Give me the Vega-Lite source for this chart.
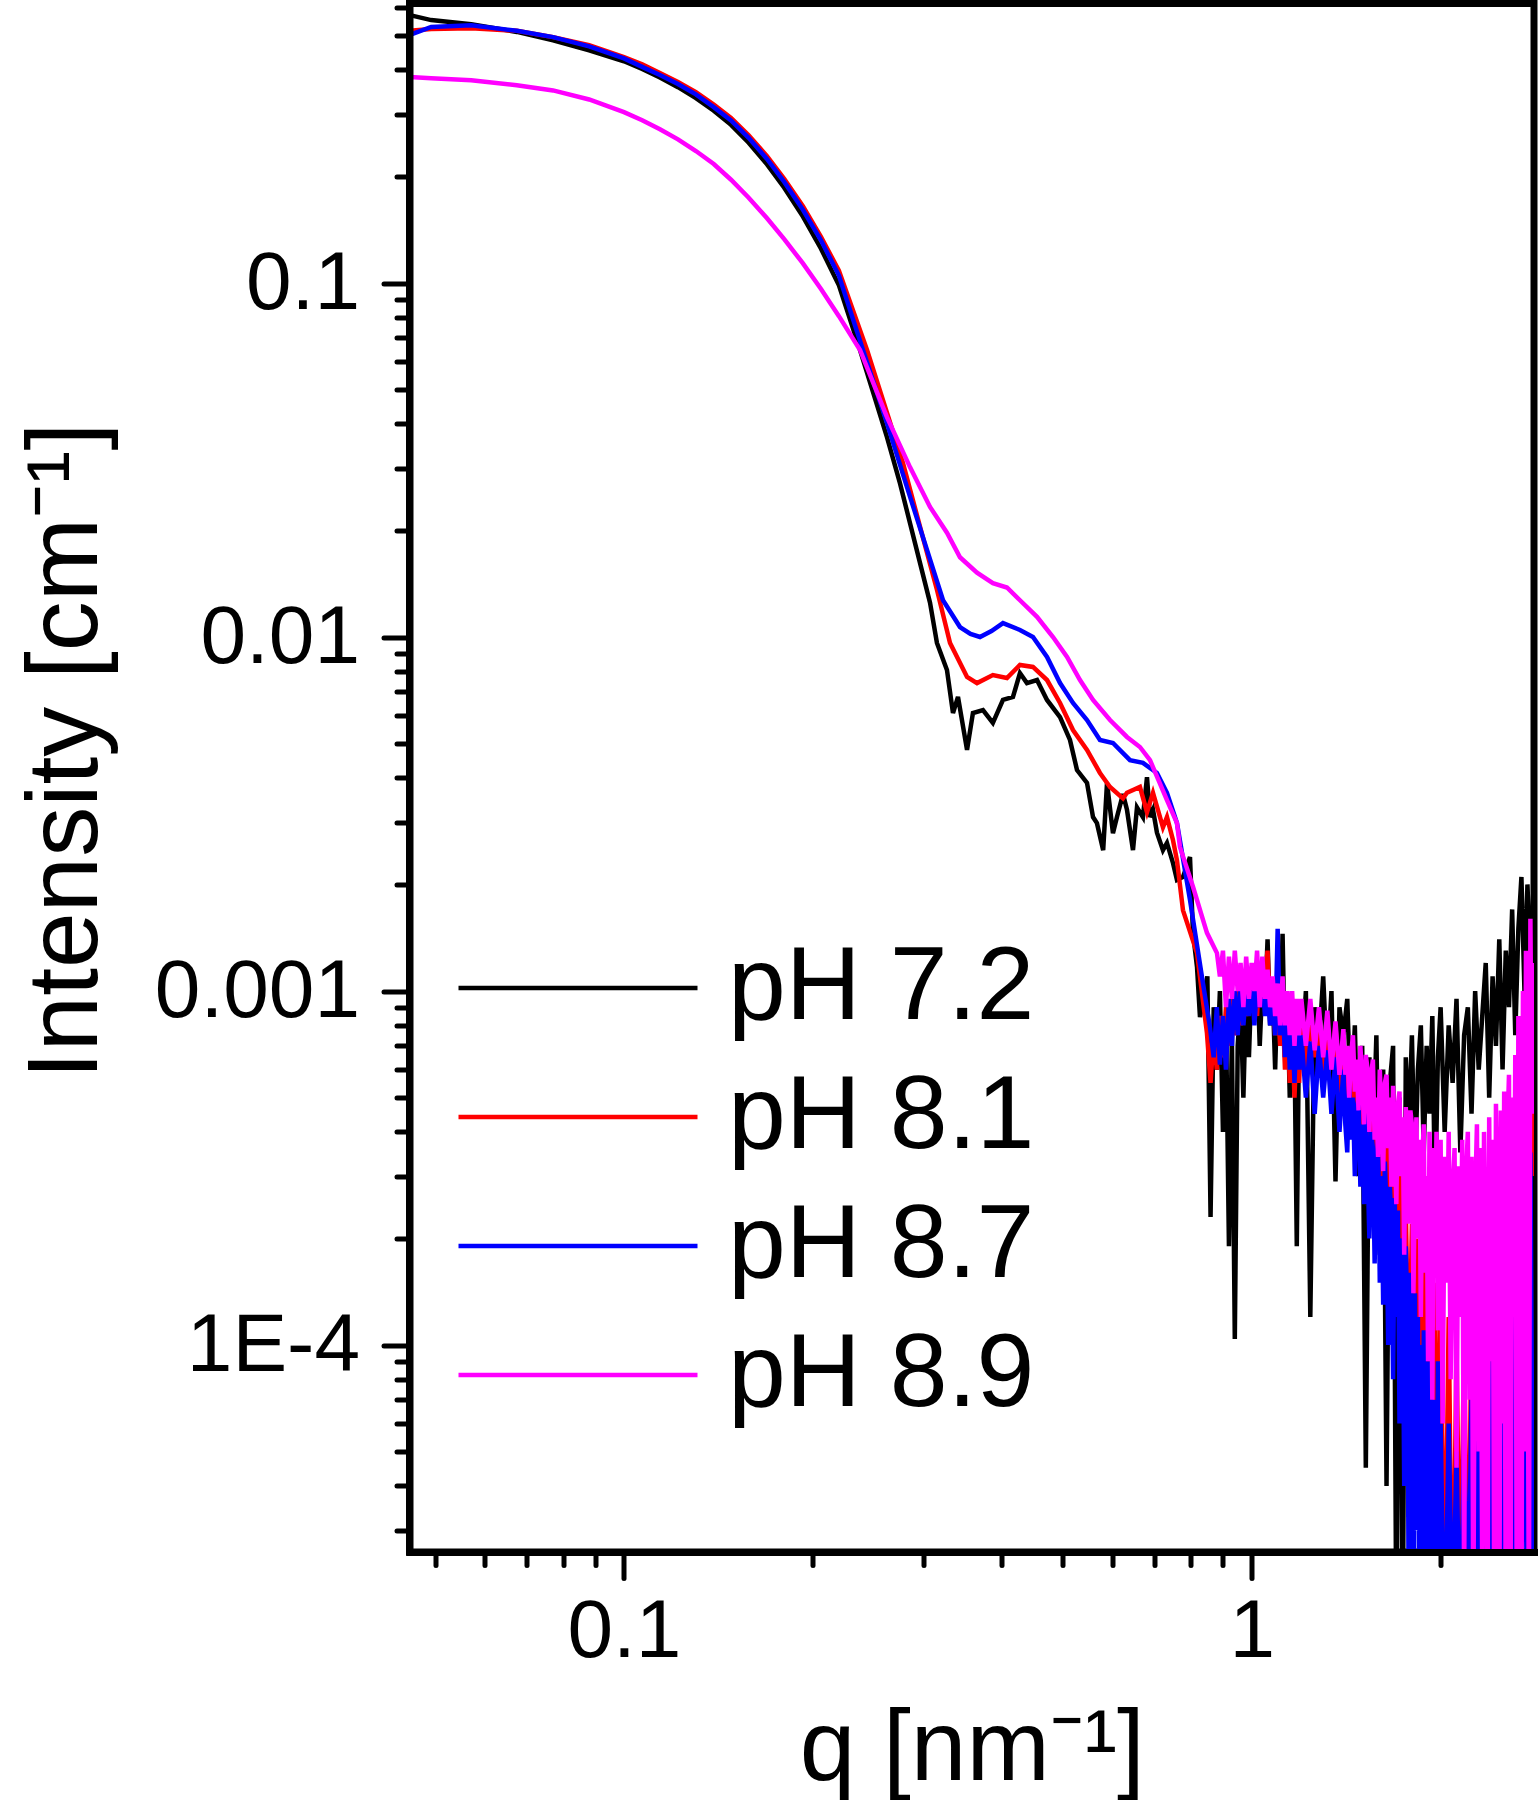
{
"$schema": "https://vega.github.io/schema/vega-lite/v6.json",
"width": 1124.5,
"height": 1548.5,
"autosize": {"type": "none"},
"padding": {"left": 409.5, "top": 3.5, "right": 6, "bottom": 248},
"background": "white",
"config": {"view": {"stroke": "black", "strokeWidth": 7}, "font": "Liberation Sans"},
"data": {"values": [
{"p":"pH 7.2","q":0.0456,"I":0.571},{"p":"pH 7.2","q":0.0493,"I":0.553},{"p":"pH 7.2","q":0.0571,"I":0.538},{"p":"pH 7.2","q":0.0675,"I":0.512},{"p":"pH 7.2","q":0.0771,"I":0.485},{"p":"pH 7.2","q":0.088,"I":0.454},{"p":"pH 7.2","q":0.1,"I":0.4231},{"p":"pH 7.2","q":0.1069,"I":0.4025},{"p":"pH 7.2","q":0.1141,"I":0.3806},{"p":"pH 7.2","q":0.1219,"I":0.3575},{"p":"pH 7.2","q":0.1302,"I":0.333},{"p":"pH 7.2","q":0.139,"I":0.3068},{"p":"pH 7.2","q":0.1481,"I":0.2798},{"p":"pH 7.2","q":0.158,"I":0.249},{"p":"pH 7.2","q":0.169,"I":0.2163},{"p":"pH 7.2","q":0.18,"I":0.1858},{"p":"pH 7.2","q":0.1928,"I":0.154},{"p":"pH 7.2","q":0.206,"I":0.125},{"p":"pH 7.2","q":0.22,"I":0.0985},{"p":"pH 7.2","q":0.2377,"I":0.0647},{"p":"pH 7.2","q":0.2624,"I":0.0367},{"p":"pH 7.2","q":0.2752,"I":0.0272},{"p":"pH 7.2","q":0.2855,"I":0.021},{"p":"pH 7.2","q":0.2962,"I":0.0162},{"p":"pH 7.2","q":0.3073,"I":0.0125},{"p":"pH 7.2","q":0.3152,"I":0.00962},{"p":"pH 7.2","q":0.327,"I":0.00807},{"p":"pH 7.2","q":0.3343,"I":0.0061},{"p":"pH 7.2","q":0.3405,"I":0.00677},{"p":"pH 7.2","q":0.352,"I":0.0048},{"p":"pH 7.2","q":0.3597,"I":0.0061},{"p":"pH 7.2","q":0.3732,"I":0.00622},{"p":"pH 7.2","q":0.387,"I":0.00572},{"p":"pH 7.2","q":0.4016,"I":0.00664},{"p":"pH 7.2","q":0.4166,"I":0.00677},{"p":"pH 7.2","q":0.4274,"I":0.00791},{"p":"pH 7.2","q":0.4385,"I":0.00741},{"p":"pH 7.2","q":0.455,"I":0.00756},{"p":"pH 7.2","q":0.472,"I":0.00664},{"p":"pH 7.2","q":0.4951,"I":0.00594},{"p":"pH 7.2","q":0.5135,"I":0.00512},{"p":"pH 7.2","q":0.5269,"I":0.00421},{"p":"pH 7.2","q":0.5466,"I":0.00387},{"p":"pH 7.2","q":0.5588,"I":0.0031},{"p":"pH 7.2","q":0.5669,"I":0.00298},{"p":"pH 7.2","q":0.58,"I":0.0025},{"p":"pH 7.2","q":0.5882,"I":0.00387},{"p":"pH 7.2","q":0.6012,"I":0.00279},{"p":"pH 7.2","q":0.6101,"I":0.0031},{"p":"pH 7.2","q":0.6237,"I":0.0036},{"p":"pH 7.2","q":0.6329,"I":0.00325},{"p":"pH 7.2","q":0.647,"I":0.0025},{"p":"pH 7.2","q":0.6566,"I":0.0033},{"p":"pH 7.2","q":0.6711,"I":0.0031},{"p":"pH 7.2","q":0.6811,"I":0.00402},{"p":"pH 7.2","q":0.6887,"I":0.0031},{"p":"pH 7.2","q":0.6963,"I":0.00325},{"p":"pH 7.2","q":0.7065,"I":0.0028},{"p":"pH 7.2","q":0.7222,"I":0.0025},{"p":"pH 7.2","q":0.7329,"I":0.00262},{"p":"pH 7.2","q":0.7492,"I":0.0023},{"p":"pH 7.2","q":0.7603,"I":0.00206},{"p":"pH 7.2","q":0.7773,"I":0.0021},{"p":"pH 7.2","q":0.7975,"I":0.00239},{"p":"pH 7.2","q":0.8063,"I":0.00146},{"p":"pH 7.2","q":0.8183,"I":0.00117},{"p":"pH 7.2","q":0.8273,"I":0.000844},
{"p":"pH 7.2","q":0.85,"I":0.0011},{"p":"pH 7.2","q":0.86,"I":0.00023},{"p":"pH 7.2","q":0.87,"I":0.0009},{"p":"pH 7.2","q":0.88,"I":0.0006},{"p":"pH 7.2","q":0.89,"I":0.001},{"p":"pH 7.2","q":0.9,"I":0.0004},{"p":"pH 7.2","q":0.91,"I":0.00085},{"p":"pH 7.2","q":0.92,"I":0.00019},{"p":"pH 7.2","q":0.93,"I":0.00075},{"p":"pH 7.2","q":0.94,"I":0.000104},{"p":"pH 7.2","q":0.95,"I":0.0007},{"p":"pH 7.2","q":0.96,"I":0.00095},{"p":"pH 7.2","q":0.97,"I":0.0005},{"p":"pH 7.2","q":0.98,"I":0.001},{"p":"pH 7.2","q":0.99,"I":0.00065},{"p":"pH 7.2","q":1.0,"I":0.0011},{"p":"pH 7.2","q":1.01,"I":0.00085},{"p":"pH 7.2","q":1.02,"I":0.0012},{"p":"pH 7.2","q":1.03,"I":0.0007},{"p":"pH 7.2","q":1.04,"I":0.00105},{"p":"pH 7.2","q":1.05,"I":0.0009},{"p":"pH 7.2","q":1.06,"I":0.0014},{"p":"pH 7.2","q":1.07,"I":0.0008},{"p":"pH 7.2","q":1.08,"I":0.001},{"p":"pH 7.2","q":1.09,"I":0.0006},{"p":"pH 7.2","q":1.1,"I":0.00105},{"p":"pH 7.2","q":1.11,"I":0.00075},{"p":"pH 7.2","q":1.12,"I":0.00145},{"p":"pH 7.2","q":1.13,"I":0.00065},{"p":"pH 7.2","q":1.14,"I":0.00095},{"p":"pH 7.2","q":1.15,"I":0.0005},{"p":"pH 7.2","q":1.16,"I":0.00085},{"p":"pH 7.2","q":1.17,"I":0.0007},{"p":"pH 7.2","q":1.18,"I":0.00019},{"p":"pH 7.2","q":1.19,"I":0.0008},{"p":"pH 7.2","q":1.2,"I":0.0006},{"p":"pH 7.2","q":1.22,"I":0.001},{"p":"pH 7.2","q":1.24,"I":0.00012},{"p":"pH 7.2","q":1.26,"I":0.0009},{"p":"pH 7.2","q":1.28,"I":0.0007},{"p":"pH 7.2","q":1.3,"I":0.0011},{"p":"pH 7.2","q":1.32,"I":0.0006},{"p":"pH 7.2","q":1.34,"I":0.001},{"p":"pH 7.2","q":1.36,"I":0.00029},{"p":"pH 7.2","q":1.38,"I":0.0009},{"p":"pH 7.2","q":1.4,"I":0.00075},{"p":"pH 7.2","q":1.42,"I":0.00095},{"p":"pH 7.2","q":1.44,"I":0.00045},{"p":"pH 7.2","q":1.46,"I":0.0008},{"p":"pH 7.2","q":1.48,"I":0.0003},{"p":"pH 7.2","q":1.5,"I":0.0007},{"p":"pH 7.2","q":1.52,"I":0.000045},{"p":"pH 7.2","q":1.54,"I":0.00065},{"p":"pH 7.2","q":1.56,"I":0.00035},{"p":"pH 7.2","q":1.58,"I":0.00075},{"p":"pH 7.2","q":1.6,"I":0.00018},{"p":"pH 7.2","q":1.62,"I":0.0006},{"p":"pH 7.2","q":1.64,"I":0.00004},{"p":"pH 7.2","q":1.66,"I":0.00055},{"p":"pH 7.2","q":1.68,"I":0.0007},{"p":"pH 7.2","q":1.7,"I":0.000015},{"p":"pH 7.2","q":1.72,"I":0.0005},{"p":"pH 7.2","q":1.74,"I":0.000012},{"p":"pH 7.2","q":1.76,"I":0.00065},{"p":"pH 7.2","q":1.78,"I":0.0004},{"p":"pH 7.2","q":1.8,"I":0.00075},{"p":"pH 7.2","q":1.82,"I":0.0003},{"p":"pH 7.2","q":1.84,"I":0.0006},{"p":"pH 7.2","q":1.86,"I":0.0008},{"p":"pH 7.2","q":1.88,"I":0.00035},{"p":"pH 7.2","q":1.9,"I":0.0007},{"p":"pH 7.2","q":1.92,"I":0.00045},{"p":"pH 7.2","q":1.94,"I":0.00085},{"p":"pH 7.2","q":1.96,"I":0.00025},{"p":"pH 7.2","q":1.98,"I":0.00065},{"p":"pH 7.2","q":2.0,"I":0.0009},{"p":"pH 7.2","q":2.03,"I":0.0004},{"p":"pH 7.2","q":2.06,"I":0.0008},{"p":"pH 7.2","q":2.09,"I":0.00055},{"p":"pH 7.2","q":2.12,"I":0.00095},{"p":"pH 7.2","q":2.15,"I":0.00035},{"p":"pH 7.2","q":2.18,"I":0.00075},{"p":"pH 7.2","q":2.21,"I":0.0009},{"p":"pH 7.2","q":2.24,"I":0.00045},{"p":"pH 7.2","q":2.27,"I":0.001},{"p":"pH 7.2","q":2.3,"I":0.0006},{"p":"pH 7.2","q":2.33,"I":0.00085},{"p":"pH 7.2","q":2.36,"I":0.0012},{"p":"pH 7.2","q":2.39,"I":0.0005},{"p":"pH 7.2","q":2.42,"I":0.0011},{"p":"pH 7.2","q":2.45,"I":0.0007},{"p":"pH 7.2","q":2.48,"I":0.0014},{"p":"pH 7.2","q":2.51,"I":0.0006},{"p":"pH 7.2","q":2.54,"I":0.0013},{"p":"pH 7.2","q":2.57,"I":0.0009},{"p":"pH 7.2","q":2.6,"I":0.0017},{"p":"pH 7.2","q":2.63,"I":0.00075},{"p":"pH 7.2","q":2.66,"I":0.0015},{"p":"pH 7.2","q":2.69,"I":0.0021},{"p":"pH 7.2","q":2.72,"I":0.001},{"p":"pH 7.2","q":2.75,"I":0.002},{"p":"pH 7.2","q":2.78,"I":0.0012},{"p":"pH 7.2","q":2.81,"I":0.0019},
{"p":"pH 8.1","q":0.0456,"I":0.516},{"p":"pH 8.1","q":0.0493,"I":0.522},{"p":"pH 8.1","q":0.0571,"I":0.524},{"p":"pH 8.1","q":0.0675,"I":0.516},{"p":"pH 8.1","q":0.0771,"I":0.495},{"p":"pH 8.1","q":0.088,"I":0.47},{"p":"pH 8.1","q":0.1,"I":0.435},{"p":"pH 8.1","q":0.1069,"I":0.4146},{"p":"pH 8.1","q":0.1141,"I":0.392},{"p":"pH 8.1","q":0.1219,"I":0.37},{"p":"pH 8.1","q":0.1302,"I":0.3463},{"p":"pH 8.1","q":0.139,"I":0.319},{"p":"pH 8.1","q":0.1481,"I":0.2924},{"p":"pH 8.1","q":0.158,"I":0.2615},{"p":"pH 8.1","q":0.169,"I":0.2282},{"p":"pH 8.1","q":0.18,"I":0.197},{"p":"pH 8.1","q":0.1928,"I":0.1648},{"p":"pH 8.1","q":0.206,"I":0.135},{"p":"pH 8.1","q":0.22,"I":0.1084},{"p":"pH 8.1","q":0.2439,"I":0.0647},{"p":"pH 8.1","q":0.2783,"I":0.031},{"p":"pH 8.1","q":0.2962,"I":0.0205},{"p":"pH 8.1","q":0.3152,"I":0.0136},{"p":"pH 8.1","q":0.3307,"I":0.00962},{"p":"pH 8.1","q":0.352,"I":0.00771},{"p":"pH 8.1","q":0.3651,"I":0.00741},{"p":"pH 8.1","q":0.387,"I":0.00781},{"p":"pH 8.1","q":0.4075,"I":0.00766},{"p":"pH 8.1","q":0.4274,"I":0.00834},{"p":"pH 8.1","q":0.4483,"I":0.00823},{"p":"pH 8.1","q":0.472,"I":0.00756},{"p":"pH 8.1","q":0.4951,"I":0.00651},{"p":"pH 8.1","q":0.5192,"I":0.00546},{"p":"pH 8.1","q":0.5466,"I":0.0048},{"p":"pH 8.1","q":0.5732,"I":0.00413},{"p":"pH 8.1","q":0.5947,"I":0.00377},{"p":"pH 8.1","q":0.6237,"I":0.0035},{"p":"pH 8.1","q":0.6329,"I":0.00363},{"p":"pH 8.1","q":0.6637,"I":0.00377},{"p":"pH 8.1","q":0.6811,"I":0.0032},{"p":"pH 8.1","q":0.6963,"I":0.00363},{"p":"pH 8.1","q":0.7222,"I":0.0029},{"p":"pH 8.1","q":0.7329,"I":0.0031},{"p":"pH 8.1","q":0.7492,"I":0.00267},{"p":"pH 8.1","q":0.7603,"I":0.00234},{"p":"pH 8.1","q":0.7773,"I":0.00169},{"p":"pH 8.1","q":0.8183,"I":0.00128},{"p":"pH 8.1","q":0.8487,"I":0.000761},
{"p":"pH 8.1","q":0.86,"I":0.00055},{"p":"pH 8.1","q":0.87,"I":0.00075},{"p":"pH 8.1","q":0.88,"I":0.0006},{"p":"pH 8.1","q":0.89,"I":0.00085},{"p":"pH 8.1","q":0.9,"I":0.00065},{"p":"pH 8.1","q":0.91,"I":0.0009},{"p":"pH 8.1","q":0.92,"I":0.0007},{"p":"pH 8.1","q":0.93,"I":0.00095},{"p":"pH 8.1","q":0.94,"I":0.00075},{"p":"pH 8.1","q":0.95,"I":0.001},{"p":"pH 8.1","q":0.96,"I":0.0008},{"p":"pH 8.1","q":0.97,"I":0.00105},{"p":"pH 8.1","q":0.98,"I":0.00085},{"p":"pH 8.1","q":0.99,"I":0.0011},{"p":"pH 8.1","q":1.0,"I":0.0009},{"p":"pH 8.1","q":1.01,"I":0.00105},{"p":"pH 8.1","q":1.02,"I":0.00085},{"p":"pH 8.1","q":1.03,"I":0.0012},{"p":"pH 8.1","q":1.04,"I":0.00095},{"p":"pH 8.1","q":1.05,"I":0.0011},{"p":"pH 8.1","q":1.06,"I":0.0013},{"p":"pH 8.1","q":1.07,"I":0.00085},{"p":"pH 8.1","q":1.08,"I":0.001},{"p":"pH 8.1","q":1.09,"I":0.00075},{"p":"pH 8.1","q":1.1,"I":0.00095},{"p":"pH 8.1","q":1.11,"I":0.0007},{"p":"pH 8.1","q":1.12,"I":0.0009},{"p":"pH 8.1","q":1.13,"I":0.0006},{"p":"pH 8.1","q":1.14,"I":0.00085},{"p":"pH 8.1","q":1.15,"I":0.00055},{"p":"pH 8.1","q":1.16,"I":0.0008},{"p":"pH 8.1","q":1.17,"I":0.0005},{"p":"pH 8.1","q":1.18,"I":0.00075},{"p":"pH 8.1","q":1.19,"I":0.00055},{"p":"pH 8.1","q":1.2,"I":0.0008},{"p":"pH 8.1","q":1.22,"I":0.0006},{"p":"pH 8.1","q":1.24,"I":0.00085},{"p":"pH 8.1","q":1.26,"I":0.00065},{"p":"pH 8.1","q":1.28,"I":0.0008},{"p":"pH 8.1","q":1.3,"I":0.00055},{"p":"pH 8.1","q":1.32,"I":0.00075},{"p":"pH 8.1","q":1.34,"I":0.0006},{"p":"pH 8.1","q":1.36,"I":0.0008},{"p":"pH 8.1","q":1.38,"I":0.0005},{"p":"pH 8.1","q":1.4,"I":0.0007},{"p":"pH 8.1","q":1.42,"I":0.00045},{"p":"pH 8.1","q":1.44,"I":0.00065},{"p":"pH 8.1","q":1.46,"I":0.0004},{"p":"pH 8.1","q":1.48,"I":0.0006},{"p":"pH 8.1","q":1.5,"I":0.00035},{"p":"pH 8.1","q":1.52,"I":0.00055},{"p":"pH 8.1","q":1.54,"I":0.0003},{"p":"pH 8.1","q":1.56,"I":0.0005},{"p":"pH 8.1","q":1.58,"I":0.00025},{"p":"pH 8.1","q":1.6,"I":0.00045},{"p":"pH 8.1","q":1.62,"I":0.0002},{"p":"pH 8.1","q":1.64,"I":0.0004},{"p":"pH 8.1","q":1.66,"I":0.00015},{"p":"pH 8.1","q":1.68,"I":0.00035},{"p":"pH 8.1","q":1.7,"I":0.00012},{"p":"pH 8.1","q":1.72,"I":0.0003},{"p":"pH 8.1","q":1.74,"I":0.00009},{"p":"pH 8.1","q":1.76,"I":0.00025},{"p":"pH 8.1","q":1.78,"I":0.00007},{"p":"pH 8.1","q":1.8,"I":0.00022},{"p":"pH 8.1","q":1.82,"I":0.00005},{"p":"pH 8.1","q":1.84,"I":0.0002},{"p":"pH 8.1","q":1.86,"I":0.00004},{"p":"pH 8.1","q":1.88,"I":0.00018},{"p":"pH 8.1","q":1.9,"I":0.000035},{"p":"pH 8.1","q":1.92,"I":0.00016},{"p":"pH 8.1","q":1.94,"I":0.00003},{"p":"pH 8.1","q":1.96,"I":0.00015},{"p":"pH 8.1","q":1.98,"I":0.00002},{"p":"pH 8.1","q":2.0,"I":0.00014},{"p":"pH 8.1","q":2.03,"I":0.000015},{"p":"pH 8.1","q":2.06,"I":0.00012},{"p":"pH 8.1","q":2.09,"I":0.000012},{"p":"pH 8.1","q":2.12,"I":0.0001},{"p":"pH 8.1","q":2.15,"I":0.000015},{"p":"pH 8.1","q":2.18,"I":0.00011},{"p":"pH 8.1","q":2.21,"I":0.000012},{"p":"pH 8.1","q":2.24,"I":0.00013},{"p":"pH 8.1","q":2.27,"I":0.00002},{"p":"pH 8.1","q":2.3,"I":0.00015},{"p":"pH 8.1","q":2.33,"I":0.000015},{"p":"pH 8.1","q":2.36,"I":0.00018},{"p":"pH 8.1","q":2.39,"I":0.00003},{"p":"pH 8.1","q":2.42,"I":0.0002},{"p":"pH 8.1","q":2.45,"I":0.000015},{"p":"pH 8.1","q":2.48,"I":0.00025},{"p":"pH 8.1","q":2.51,"I":0.00004},{"p":"pH 8.1","q":2.54,"I":0.0003},{"p":"pH 8.1","q":2.57,"I":0.000015},{"p":"pH 8.1","q":2.6,"I":0.0004},{"p":"pH 8.1","q":2.63,"I":0.00006},{"p":"pH 8.1","q":2.66,"I":0.0005},{"p":"pH 8.1","q":2.69,"I":0.000015},{"p":"pH 8.1","q":2.72,"I":0.0006},{"p":"pH 8.1","q":2.75,"I":0.0001},{"p":"pH 8.1","q":2.78,"I":0.0008},{"p":"pH 8.1","q":2.81,"I":0.0003},
{"p":"pH 8.7","q":0.0456,"I":0.502},{"p":"pH 8.7","q":0.0493,"I":0.529},{"p":"pH 8.7","q":0.0571,"I":0.535},{"p":"pH 8.7","q":0.0675,"I":0.516},{"p":"pH 8.7","q":0.0771,"I":0.495},{"p":"pH 8.7","q":0.088,"I":0.466},{"p":"pH 8.7","q":0.1,"I":0.431},{"p":"pH 8.7","q":0.1069,"I":0.408},{"p":"pH 8.7","q":0.1141,"I":0.387},{"p":"pH 8.7","q":0.1219,"I":0.365},{"p":"pH 8.7","q":0.1302,"I":0.341},{"p":"pH 8.7","q":0.139,"I":0.314},{"p":"pH 8.7","q":0.1481,"I":0.288},{"p":"pH 8.7","q":0.158,"I":0.257},{"p":"pH 8.7","q":0.169,"I":0.224},{"p":"pH 8.7","q":0.18,"I":0.193},{"p":"pH 8.7","q":0.1928,"I":0.161},{"p":"pH 8.7","q":0.206,"I":0.132},{"p":"pH 8.7","q":0.22,"I":0.105},{"p":"pH 8.7","q":0.2403,"I":0.0647},{"p":"pH 8.7","q":0.2624,"I":0.0402},{"p":"pH 8.7","q":0.2824,"I":0.0265},{"p":"pH 8.7","q":0.304,"I":0.0176},{"p":"pH 8.7","q":0.3223,"I":0.0127},{"p":"pH 8.7","q":0.343,"I":0.01067},{"p":"pH 8.7","q":0.3565,"I":0.0102},{"p":"pH 8.7","q":0.3691,"I":0.01},{"p":"pH 8.7","q":0.385,"I":0.0104},{"p":"pH 8.7","q":0.4016,"I":0.01095},{"p":"pH 8.7","q":0.4274,"I":0.01047},{"p":"pH 8.7","q":0.4483,"I":0.01},{"p":"pH 8.7","q":0.472,"I":0.00878},{"p":"pH 8.7","q":0.4951,"I":0.00741},{"p":"pH 8.7","q":0.5192,"I":0.00651},{"p":"pH 8.7","q":0.5466,"I":0.00583},{"p":"pH 8.7","q":0.5732,"I":0.00512},{"p":"pH 8.7","q":0.6012,"I":0.00502},{"p":"pH 8.7","q":0.6399,"I":0.00449},{"p":"pH 8.7","q":0.6711,"I":0.00441},{"p":"pH 8.7","q":0.7065,"I":0.00413},{"p":"pH 8.7","q":0.7329,"I":0.00363},{"p":"pH 8.7","q":0.7603,"I":0.00298},{"p":"pH 8.7","q":0.7975,"I":0.00181},{"p":"pH 8.7","q":0.8365,"I":0.00105},{"p":"pH 8.7","q":0.8581,"I":0.00079},
{"p":"pH 8.7","q":0.87,"I":0.00065},{"p":"pH 8.7","q":0.88,"I":0.0009},{"p":"pH 8.7","q":0.89,"I":0.00062},{"p":"pH 8.7","q":0.9,"I":0.00085},{"p":"pH 8.7","q":0.91,"I":0.0006},{"p":"pH 8.7","q":0.92,"I":0.00095},{"p":"pH 8.7","q":0.93,"I":0.0007},{"p":"pH 8.7","q":0.94,"I":0.001},{"p":"pH 8.7","q":0.95,"I":0.00075},{"p":"pH 8.7","q":0.96,"I":0.00105},{"p":"pH 8.7","q":0.97,"I":0.0008},{"p":"pH 8.7","q":0.98,"I":0.001},{"p":"pH 8.7","q":0.99,"I":0.00085},{"p":"pH 8.7","q":1.0,"I":0.0011},{"p":"pH 8.7","q":1.01,"I":0.0008},{"p":"pH 8.7","q":1.02,"I":0.00105},{"p":"pH 8.7","q":1.03,"I":0.0009},{"p":"pH 8.7","q":1.04,"I":0.0011},{"p":"pH 8.7","q":1.05,"I":0.00085},{"p":"pH 8.7","q":1.06,"I":0.001},{"p":"pH 8.7","q":1.07,"I":0.0008},{"p":"pH 8.7","q":1.08,"I":0.00095},{"p":"pH 8.7","q":1.09,"I":0.00075},{"p":"pH 8.7","q":1.1,"I":0.0015},{"p":"pH 8.7","q":1.11,"I":0.00075},{"p":"pH 8.7","q":1.12,"I":0.00095},{"p":"pH 8.7","q":1.13,"I":0.00065},{"p":"pH 8.7","q":1.14,"I":0.0009},{"p":"pH 8.7","q":1.15,"I":0.0006},{"p":"pH 8.7","q":1.16,"I":0.00085},{"p":"pH 8.7","q":1.17,"I":0.00055},{"p":"pH 8.7","q":1.18,"I":0.0008},{"p":"pH 8.7","q":1.19,"I":0.0006},{"p":"pH 8.7","q":1.2,"I":0.00075},{"p":"pH 8.7","q":1.22,"I":0.0005},{"p":"pH 8.7","q":1.24,"I":0.00072},{"p":"pH 8.7","q":1.26,"I":0.00045},{"p":"pH 8.7","q":1.28,"I":0.0007},{"p":"pH 8.7","q":1.3,"I":0.0005},{"p":"pH 8.7","q":1.32,"I":0.00068},{"p":"pH 8.7","q":1.34,"I":0.00045},{"p":"pH 8.7","q":1.36,"I":0.00065},{"p":"pH 8.7","q":1.38,"I":0.0004},
{"p":"pH 8.7","q":1.4,"I":0.0006},{"p":"pH 8.7","q":1.41,"I":0.00042},{"p":"pH 8.7","q":1.42,"I":0.00035},{"p":"pH 8.7","q":1.43,"I":0.00055},{"p":"pH 8.7","q":1.44,"I":0.00038},{"p":"pH 8.7","q":1.45,"I":0.0005},{"p":"pH 8.7","q":1.46,"I":0.0003},{"p":"pH 8.7","q":1.47,"I":0.00046},{"p":"pH 8.7","q":1.48,"I":0.0005},{"p":"pH 8.7","q":1.49,"I":0.00028},{"p":"pH 8.7","q":1.5,"I":0.00042},{"p":"pH 8.7","q":1.51,"I":0.00025},{"p":"pH 8.7","q":1.52,"I":0.00045},{"p":"pH 8.7","q":1.53,"I":0.00032},{"p":"pH 8.7","q":1.54,"I":0.0002},{"p":"pH 8.7","q":1.55,"I":0.0004},{"p":"pH 8.7","q":1.56,"I":0.00036},{"p":"pH 8.7","q":1.57,"I":0.00017},{"p":"pH 8.7","q":1.58,"I":0.00032},{"p":"pH 8.7","q":1.59,"I":0.00038},{"p":"pH 8.7","q":1.6,"I":0.00015},{"p":"pH 8.7","q":1.61,"I":0.0003},{"p":"pH 8.7","q":1.62,"I":0.00013},{"p":"pH 8.7","q":1.63,"I":0.00033},{"p":"pH 8.7","q":1.64,"I":0.00024},{"p":"pH 8.7","q":1.65,"I":0.0001},{"p":"pH 8.7","q":1.66,"I":0.00028},{"p":"pH 8.7","q":1.67,"I":0.00022},{"p":"pH 8.7","q":1.68,"I":0.00008},{"p":"pH 8.7","q":1.69,"I":0.00026},{"p":"pH 8.7","q":1.7,"I":0.00012},{"p":"pH 8.7","q":1.71,"I":0.00024},{"p":"pH 8.7","q":1.72,"I":0.00006},{"p":"pH 8.7","q":1.73,"I":0.0002},{"p":"pH 8.7","q":1.74,"I":0.00016},{"p":"pH 8.7","q":1.75,"I":0.00004},{"p":"pH 8.7","q":1.76,"I":0.00019},{"p":"pH 8.7","q":1.77,"I":0.00012},{"p":"pH 8.7","q":1.78,"I":0.000015},{"p":"pH 8.7","q":1.79,"I":0.00016},{"p":"pH 8.7","q":1.8,"I":0.00007},{"p":"pH 8.7","q":1.81,"I":0.000012},{"p":"pH 8.7","q":1.82,"I":0.00014},{"p":"pH 8.7","q":1.83,"I":0.00003},{"p":"pH 8.7","q":1.84,"I":0.00012},{"p":"pH 8.7","q":1.85,"I":0.000015},{"p":"pH 8.7","q":1.86,"I":0.0001},{"p":"pH 8.7","q":1.87,"I":0.000012},{"p":"pH 8.7","q":1.88,"I":0.00011},{"p":"pH 8.7","q":1.89,"I":0.00005},{"p":"pH 8.7","q":1.9,"I":0.000012},{"p":"pH 8.7","q":1.91,"I":0.00009},{"p":"pH 8.7","q":1.92,"I":0.000015},{"p":"pH 8.7","q":1.93,"I":0.00008},{"p":"pH 8.7","q":1.94,"I":0.000012},{"p":"pH 8.7","q":1.95,"I":0.00007},{"p":"pH 8.7","q":1.96,"I":0.00002},{"p":"pH 8.7","q":1.97,"I":0.000012},{"p":"pH 8.7","q":1.98,"I":0.00009},{"p":"pH 8.7","q":1.99,"I":0.000015},{"p":"pH 8.7","q":2.0,"I":0.00006},
{"p":"pH 8.7","q":2.03,"I":0.000012},{"p":"pH 8.7","q":2.06,"I":0.00006},{"p":"pH 8.7","q":2.09,"I":0.000015},{"p":"pH 8.7","q":2.12,"I":0.00005},{"p":"pH 8.7","q":2.15,"I":0.000012},{"p":"pH 8.7","q":2.18,"I":0.00006},{"p":"pH 8.7","q":2.21,"I":0.000015},{"p":"pH 8.7","q":2.24,"I":0.00007},{"p":"pH 8.7","q":2.27,"I":0.000012},{"p":"pH 8.7","q":2.3,"I":0.00008},{"p":"pH 8.7","q":2.33,"I":0.000015},{"p":"pH 8.7","q":2.36,"I":0.00009},{"p":"pH 8.7","q":2.39,"I":0.000012},{"p":"pH 8.7","q":2.42,"I":0.0001},{"p":"pH 8.7","q":2.45,"I":0.000015},{"p":"pH 8.7","q":2.48,"I":0.00012},{"p":"pH 8.7","q":2.51,"I":0.000012},{"p":"pH 8.7","q":2.54,"I":0.00014},{"p":"pH 8.7","q":2.57,"I":0.000015},{"p":"pH 8.7","q":2.6,"I":0.00016},{"p":"pH 8.7","q":2.63,"I":0.000012},{"p":"pH 8.7","q":2.66,"I":0.0002},{"p":"pH 8.7","q":2.69,"I":0.000015},{"p":"pH 8.7","q":2.72,"I":0.00025},{"p":"pH 8.7","q":2.75,"I":0.000012},{"p":"pH 8.7","q":2.78,"I":0.00035},{"p":"pH 8.7","q":2.81,"I":0.000015},
{"p":"pH 8.9","q":0.0456,"I":0.382},{"p":"pH 8.9","q":0.0493,"I":0.379},{"p":"pH 8.9","q":0.0571,"I":0.374},{"p":"pH 8.9","q":0.0675,"I":0.362},{"p":"pH 8.9","q":0.0771,"I":0.35},{"p":"pH 8.9","q":0.088,"I":0.33},{"p":"pH 8.9","q":0.1,"I":0.304},{"p":"pH 8.9","q":0.1069,"I":0.2884},{"p":"pH 8.9","q":0.1141,"I":0.272},{"p":"pH 8.9","q":0.1219,"I":0.2545},{"p":"pH 8.9","q":0.1302,"I":0.236},{"p":"pH 8.9","q":0.139,"I":0.2168},{"p":"pH 8.9","q":0.1481,"I":0.1958},{"p":"pH 8.9","q":0.158,"I":0.1742},{"p":"pH 8.9","q":0.169,"I":0.1523},{"p":"pH 8.9","q":0.18,"I":0.133},{"p":"pH 8.9","q":0.1928,"I":0.1136},{"p":"pH 8.9","q":0.206,"I":0.0962},{"p":"pH 8.9","q":0.22,"I":0.0806},{"p":"pH 8.9","q":0.2377,"I":0.0647},{"p":"pH 8.9","q":0.2624,"I":0.0418},{"p":"pH 8.9","q":0.2855,"I":0.0302},{"p":"pH 8.9","q":0.3073,"I":0.0233},{"p":"pH 8.9","q":0.327,"I":0.0197},{"p":"pH 8.9","q":0.343,"I":0.0168},{"p":"pH 8.9","q":0.3651,"I":0.0152},{"p":"pH 8.9","q":0.387,"I":0.0142},{"p":"pH 8.9","q":0.4075,"I":0.0138},{"p":"pH 8.9","q":0.4274,"I":0.0127},{"p":"pH 8.9","q":0.455,"I":0.0114},{"p":"pH 8.9","q":0.4825,"I":0.01},{"p":"pH 8.9","q":0.508,"I":0.00878},{"p":"pH 8.9","q":0.5327,"I":0.00756},{"p":"pH 8.9","q":0.5588,"I":0.00664},{"p":"pH 8.9","q":0.5947,"I":0.00583},{"p":"pH 8.9","q":0.6329,"I":0.00522},{"p":"pH 8.9","q":0.6637,"I":0.00489},{"p":"pH 8.9","q":0.6887,"I":0.00449},{"p":"pH 8.9","q":0.7329,"I":0.00346},{"p":"pH 8.9","q":0.7603,"I":0.00298},{"p":"pH 8.9","q":0.7687,"I":0.00255},{"p":"pH 8.9","q":0.8063,"I":0.00197},{"p":"pH 8.9","q":0.8487,"I":0.00146},{"p":"pH 8.9","q":0.8804,"I":0.00128},
{"p":"pH 8.9","q":0.89,"I":0.0011},{"p":"pH 8.9","q":0.9,"I":0.0013},{"p":"pH 8.9","q":0.91,"I":0.0009},{"p":"pH 8.9","q":0.92,"I":0.00125},{"p":"pH 8.9","q":0.93,"I":0.00095},{"p":"pH 8.9","q":0.94,"I":0.0013},{"p":"pH 8.9","q":0.95,"I":0.001},{"p":"pH 8.9","q":0.96,"I":0.0012},{"p":"pH 8.9","q":0.97,"I":0.0009},{"p":"pH 8.9","q":0.98,"I":0.00125},{"p":"pH 8.9","q":0.99,"I":0.00095},{"p":"pH 8.9","q":1.0,"I":0.0012},{"p":"pH 8.9","q":1.01,"I":0.001},{"p":"pH 8.9","q":1.02,"I":0.0013},{"p":"pH 8.9","q":1.03,"I":0.0009},{"p":"pH 8.9","q":1.04,"I":0.00125},{"p":"pH 8.9","q":1.05,"I":0.00095},{"p":"pH 8.9","q":1.06,"I":0.00115},{"p":"pH 8.9","q":1.07,"I":0.0009},{"p":"pH 8.9","q":1.08,"I":0.0011},{"p":"pH 8.9","q":1.09,"I":0.00085},{"p":"pH 8.9","q":1.1,"I":0.00105},{"p":"pH 8.9","q":1.11,"I":0.0008},{"p":"pH 8.9","q":1.12,"I":0.0011},{"p":"pH 8.9","q":1.13,"I":0.0008},{"p":"pH 8.9","q":1.14,"I":0.001},{"p":"pH 8.9","q":1.15,"I":0.00075},{"p":"pH 8.9","q":1.16,"I":0.001},{"p":"pH 8.9","q":1.17,"I":0.0007},{"p":"pH 8.9","q":1.18,"I":0.00095},{"p":"pH 8.9","q":1.19,"I":0.00075},{"p":"pH 8.9","q":1.2,"I":0.00095},{"p":"pH 8.9","q":1.22,"I":0.0007},{"p":"pH 8.9","q":1.24,"I":0.00095},{"p":"pH 8.9","q":1.26,"I":0.00068},{"p":"pH 8.9","q":1.28,"I":0.0009},{"p":"pH 8.9","q":1.3,"I":0.00065},{"p":"pH 8.9","q":1.32,"I":0.00088},{"p":"pH 8.9","q":1.34,"I":0.0006},{"p":"pH 8.9","q":1.36,"I":0.00082},{"p":"pH 8.9","q":1.38,"I":0.00058},
{"p":"pH 8.9","q":1.4,"I":0.00078},{"p":"pH 8.9","q":1.41,"I":0.00058},{"p":"pH 8.9","q":1.42,"I":0.0007},{"p":"pH 8.9","q":1.43,"I":0.0005},{"p":"pH 8.9","q":1.44,"I":0.00066},{"p":"pH 8.9","q":1.45,"I":0.00075},{"p":"pH 8.9","q":1.46,"I":0.00052},{"p":"pH 8.9","q":1.47,"I":0.00064},{"p":"pH 8.9","q":1.48,"I":0.00046},{"p":"pH 8.9","q":1.49,"I":0.0007},{"p":"pH 8.9","q":1.5,"I":0.00056},{"p":"pH 8.9","q":1.51,"I":0.00042},{"p":"pH 8.9","q":1.52,"I":0.00066},{"p":"pH 8.9","q":1.53,"I":0.0006},{"p":"pH 8.9","q":1.54,"I":0.0004},{"p":"pH 8.9","q":1.55,"I":0.00058},{"p":"pH 8.9","q":1.56,"I":0.00064},{"p":"pH 8.9","q":1.57,"I":0.00038},{"p":"pH 8.9","q":1.58,"I":0.0005},{"p":"pH 8.9","q":1.59,"I":0.00034},{"p":"pH 8.9","q":1.6,"I":0.0006},{"p":"pH 8.9","q":1.61,"I":0.00045},{"p":"pH 8.9","q":1.62,"I":0.00031},{"p":"pH 8.9","q":1.63,"I":0.00055},{"p":"pH 8.9","q":1.64,"I":0.00058},{"p":"pH 8.9","q":1.65,"I":0.00036},{"p":"pH 8.9","q":1.66,"I":0.0005},{"p":"pH 8.9","q":1.67,"I":0.00028},{"p":"pH 8.9","q":1.68,"I":0.00054},{"p":"pH 8.9","q":1.69,"I":0.0004},{"p":"pH 8.9","q":1.7,"I":0.00025},{"p":"pH 8.9","q":1.71,"I":0.00048},{"p":"pH 8.9","q":1.72,"I":0.00052},{"p":"pH 8.9","q":1.73,"I":0.0003},{"p":"pH 8.9","q":1.74,"I":0.00044},{"p":"pH 8.9","q":1.75,"I":0.00018},{"p":"pH 8.9","q":1.76,"I":0.00047},{"p":"pH 8.9","q":1.77,"I":0.00035},{"p":"pH 8.9","q":1.78,"I":0.00022},{"p":"pH 8.9","q":1.79,"I":0.00046},{"p":"pH 8.9","q":1.8,"I":0.00042},{"p":"pH 8.9","q":1.81,"I":0.00014},{"p":"pH 8.9","q":1.82,"I":0.0003},{"p":"pH 8.9","q":1.83,"I":0.00044},{"p":"pH 8.9","q":1.84,"I":0.0002},{"p":"pH 8.9","q":1.85,"I":0.00038},{"p":"pH 8.9","q":1.86,"I":0.00012},{"p":"pH 8.9","q":1.87,"I":0.00034},{"p":"pH 8.9","q":1.88,"I":0.00042},{"p":"pH 8.9","q":1.89,"I":0.00016},{"p":"pH 8.9","q":1.9,"I":0.0003},{"p":"pH 8.9","q":1.91,"I":0.00009},{"p":"pH 8.9","q":1.92,"I":0.0004},{"p":"pH 8.9","q":1.93,"I":0.00025},{"p":"pH 8.9","q":1.94,"I":0.00007},{"p":"pH 8.9","q":1.95,"I":0.00036},{"p":"pH 8.9","q":1.96,"I":0.0002},{"p":"pH 8.9","q":1.97,"I":0.0004},{"p":"pH 8.9","q":1.98,"I":0.00011},{"p":"pH 8.9","q":1.99,"I":0.00032},{"p":"pH 8.9","q":2.0,"I":0.00038},
{"p":"pH 8.9","q":2.015,"I":0.00006},{"p":"pH 8.9","q":2.03,"I":0.00034},{"p":"pH 8.9","q":2.045,"I":0.00015},{"p":"pH 8.9","q":2.06,"I":0.0004},{"p":"pH 8.9","q":2.075,"I":0.00008},{"p":"pH 8.9","q":2.09,"I":0.00028},{"p":"pH 8.9","q":2.105,"I":0.00036},{"p":"pH 8.9","q":2.12,"I":0.000045},{"p":"pH 8.9","q":2.135,"I":0.00032},{"p":"pH 8.9","q":2.15,"I":0.00012},{"p":"pH 8.9","q":2.165,"I":0.00038},{"p":"pH 8.9","q":2.18,"I":0.00002},{"p":"pH 8.9","q":2.195,"I":0.0003},{"p":"pH 8.9","q":2.21,"I":0.0004},{"p":"pH 8.9","q":2.225,"I":0.00007},{"p":"pH 8.9","q":2.24,"I":0.00034},{"p":"pH 8.9","q":2.255,"I":0.000015},{"p":"pH 8.9","q":2.27,"I":0.00026},{"p":"pH 8.9","q":2.285,"I":0.00042},{"p":"pH 8.9","q":2.3,"I":0.00005},{"p":"pH 8.9","q":2.315,"I":0.00036},{"p":"pH 8.9","q":2.33,"I":0.00002},{"p":"pH 8.9","q":2.345,"I":0.0004},{"p":"pH 8.9","q":2.36,"I":0.00018},{"p":"pH 8.9","q":2.375,"I":0.000012},{"p":"pH 8.9","q":2.39,"I":0.00044},{"p":"pH 8.9","q":2.405,"I":0.00009},{"p":"pH 8.9","q":2.42,"I":0.00038},{"p":"pH 8.9","q":2.435,"I":0.000015},{"p":"pH 8.9","q":2.45,"I":0.00048},{"p":"pH 8.9","q":2.465,"I":0.00025},{"p":"pH 8.9","q":2.48,"I":0.000012},{"p":"pH 8.9","q":2.495,"I":0.00046},{"p":"pH 8.9","q":2.51,"I":0.00006},{"p":"pH 8.9","q":2.525,"I":0.00052},{"p":"pH 8.9","q":2.54,"I":0.000015},{"p":"pH 8.9","q":2.555,"I":0.0004},{"p":"pH 8.9","q":2.57,"I":0.00058},{"p":"pH 8.9","q":2.585,"I":0.00002},{"p":"pH 8.9","q":2.6,"I":0.0005},{"p":"pH 8.9","q":2.615,"I":0.00012},{"p":"pH 8.9","q":2.63,"I":0.00066},{"p":"pH 8.9","q":2.645,"I":0.000015},{"p":"pH 8.9","q":2.66,"I":0.00085},{"p":"pH 8.9","q":2.675,"I":0.00035},{"p":"pH 8.9","q":2.69,"I":0.000012},{"p":"pH 8.9","q":2.705,"I":0.001},{"p":"pH 8.9","q":2.72,"I":0.00005},{"p":"pH 8.9","q":2.735,"I":0.0013},{"p":"pH 8.9","q":2.75,"I":0.0002},{"p":"pH 8.9","q":2.765,"I":0.000015},{"p":"pH 8.9","q":2.78,"I":0.0016},{"p":"pH 8.9","q":2.795,"I":0.00045},{"p":"pH 8.9","q":2.81,"I":0.0012}
]},
"mark": {"type": "line", "clip": true, "strokeWidth": 4.5},
"encoding": {
  "x": {"field": "q", "type": "quantitative",
    "scale": {"type": "log", "domain": [0.04553, 2.817], "nice": false},
    "axis": {"title": "q [nm⁻¹]", "grid": false, "zindex": 1,
      "values": [0.05,0.06,0.07,0.08,0.09,0.1,0.2,0.3,0.4,0.5,0.6,0.7,0.8,0.9,1,2],
      "labelExpr": "datum.value == 0.1 ? '0.1' : datum.value == 1 ? '1' : ''",
      "tickSize": {"condition": {"test": "datum.value == 0.1 || datum.value == 1", "value": 26}, "value": 13},
      "tickWidth": 5, "tickColor": "black", "tickCap": "round",
      "domainColor": "black", "domainWidth": 7, "domainCap": "square",
      "labelFont": "Liberation Sans", "labelFontSize": 82, "labelColor": "black", "labelPadding": 13, "labelOverlap": false, "labelFlush": false, "labelLimit": 1000,
      "titleFont": "Liberation Sans", "titleFontSize": 100, "titleFontWeight": "normal", "titleColor": "black", "titlePadding": 28}},
  "y": {"field": "I", "type": "quantitative",
    "scale": {"type": "log", "domain": [0.00002602, 0.616], "nice": false},
    "axis": {"title": "Intensity [cm⁻¹]", "grid": false, "zindex": 1,
      "values": [0.00003,0.00004,0.00005,0.00006,0.00007,0.00008,0.00009,0.0001,0.0002,0.0003,0.0004,0.0005,0.0006,0.0007,0.0008,0.0009,0.001,0.002,0.003,0.004,0.005,0.006,0.007,0.008,0.009,0.01,0.02,0.03,0.04,0.05,0.06,0.07,0.08,0.09,0.1,0.2,0.3,0.4,0.5,0.6],
      "labelExpr": "datum.value == 0.1 ? '0.1' : datum.value == 0.01 ? '0.01' : datum.value == 0.001 ? '0.001' : datum.value == 0.0001 ? '1E-4' : ''",
      "tickSize": {"condition": {"test": "datum.value == 0.1 || datum.value == 0.01 || datum.value == 0.001 || datum.value == 0.0001", "value": 26}, "value": 13},
      "tickWidth": 5, "tickColor": "black", "tickCap": "round",
      "domainColor": "black", "domainWidth": 7, "domainCap": "square",
      "labelFont": "Liberation Sans", "labelFontSize": 82, "labelColor": "black", "labelPadding": 24, "labelOverlap": false, "labelFlush": false, "labelLimit": 1000,
      "titleFont": "Liberation Sans", "titleFontSize": 100, "titleFontWeight": "normal", "titleColor": "black", "titlePadding": 92, "titleY": 747}},
  "color": {"field": "p", "type": "nominal",
    "scale": {"domain": ["pH 7.2", "pH 8.1", "pH 8.7", "pH 8.9"], "range": ["#000000", "#ff0000", "#0000ff", "#ff00ff"]},
    "legend": {"title": null, "orient": "none", "legendX": 46.5, "legendY": 934.5, "padding": 0,
      "symbolType": "stroke", "symbolSize": 57121, "symbolStrokeWidth": 4.5, "clipHeight": 100, "rowPadding": 25,
      "labelFont": "Liberation Sans", "labelFontSize": 104, "labelColor": "black", "labelOffset": 28, "labelLimit": 1000}}
}
}
